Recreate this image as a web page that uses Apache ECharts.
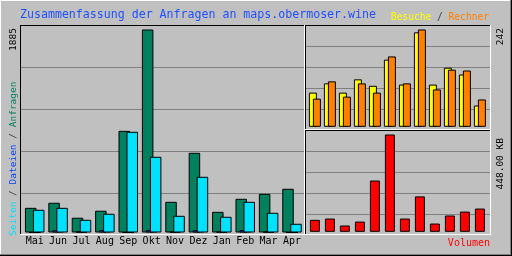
<!DOCTYPE html>
<html>
<head>
<meta charset="utf-8">
<script src="https://cdn.jsdelivr.net/npm/echarts@6/dist/echarts.min.js"></script>
<style>
    html, body { margin: 0; padding: 0; background: #c0c0c0; }
    #chart { width: 512px; height: 256px; }
</style>
</head>
<body>
<div id="chart"></div>
<script>
    // Monate
    var months = ['Mai', 'Jun', 'Jul', 'Aug', 'Sep', 'Okt', 'Nov', 'Dez', 'Jan', 'Feb', 'Mar', 'Apr'];

    // linkes Diagramm
    var anfragen = [229, 276, 137, 202, 944, 1885, 285, 740, 192, 313, 359, 406];
    var dateien = [0, 22, 8, 22, 0, 22, 8, 22, 8, 22, 8, 0];
    var seiten = [211, 229, 118, 174, 935, 703, 155, 517, 146, 285, 183, 81];

    // oben rechts
    var besuche = [85, 108, 85, 118, 102, 167, 105, 235, 105, 147, 130, 53];
    var rechner = [70, 113, 75, 108, 85, 175, 108, 242, 93, 142, 140, 68];

    // unten rechts, KB
    var volumen = [55, 61, 29, 47, 236, 448, 61, 163, 38, 75, 93, 107];

    var maxAnfragen = 1885;
    var maxBesuche = 242;
    var maxVolumen = 448;

    var mono = 'DejaVu Sans Mono, monospace';
    var grey = '#808080';

    var chart = echarts.init(document.getElementById('chart'), null, {renderer: 'canvas'});

    function gridAxis(idx) {
        return {
            type: 'value', gridIndex: idx, min: 0, max: 4, interval: 1,
            axisLine: {show: false}, axisTick: {show: false}, axisLabel: {show: false},
            splitLine: {show: true, lineStyle: {color: grey, width: 1}}
        };
    }

    function barAxis(idx, max) {
        return {
            type: 'value', gridIndex: idx, min: 0, max: max,
            axisLine: {show: false}, axisTick: {show: false}, axisLabel: {show: false},
            splitLine: {show: false}
        };
    }

    function catAxis(idx, labels) {
        return {
            type: 'category', gridIndex: idx, data: months,
            axisLine: {show: false}, axisTick: {show: false},
            axisLabel: {
                show: labels, interval: 0, margin: 4,
                color: '#000', fontFamily: mono, fontSize: 10
            },
            splitLine: {show: false}
        };
    }

    function bar(xi, yi, name, data, color, width, gap) {
        return {
            type: 'bar', name: name, xAxisIndex: xi, yAxisIndex: yi,
            data: data, barWidth: width, barGap: gap,
            itemStyle: {color: color, borderColor: '#000', borderWidth: 1},
            animation: false, silent: true
        };
    }

    function line(x1, y1, x2, y2, color) {
        return {
            type: 'line', z: 100, silent: true,
            shape: {x1: x1, y1: y1, x2: x2, y2: y2},
            style: {stroke: color, lineWidth: 1}
        };
    }

    // Rahmen: schwarz oben/links, weiss unten/rechts
    function panel(x1, y1, x2, y2) {
        return [
            line(x1, y1 + 0.5, x2 + 1, y1 + 0.5, '#000'),
            line(x1 + 0.5, y1, x1 + 0.5, y2 + 1, '#000'),
            line(x1, y2 + 0.5, x2 + 1, y2 + 0.5, '#fff'),
            line(x2 + 0.5, y1, x2 + 0.5, y2 + 1, '#fff')
        ];
    }

    function vtext(x, y, text, color) {
        return {
            type: 'text', x: x, y: y, rotation: Math.PI / 2, z: 100, silent: true,
            style: {
                text: text, fill: color, font: '9.5px ' + mono,
                align: 'right', verticalAlign: 'middle'
            }
        };
    }

    var graphics = [
        line(0, 0.5, 512, 0.5, '#fff'),
        line(0.5, 0, 0.5, 256, '#fff'),
        line(0, 254.5, 512, 254.5, grey),
        line(510.5, 0, 510.5, 256, grey),
        line(0, 255.5, 512, 255.5, '#000'),
        line(511.5, 0, 511.5, 256, '#000'),
        {
            type: 'text', x: 20, y: 15, z: 100, silent: true,
            style: {
                text: 'Zusammenfassung der Anfragen an maps.obermoser.wine',
                fill: '#1f4fff', font: '11.6px ' + mono, verticalAlign: 'middle'
            }
        },
        {
            type: 'text', x: 489, y: 17, z: 100, silent: true,
            style: {
                text: '{v|Besuche} {s|/} {r|Rechner}',
                font: '9.6px ' + mono, align: 'right', verticalAlign: 'middle',
                rich: {
                    v: {fill: '#ffff00', font: '9.6px ' + mono},
                    s: {fill: '#404040', font: '9.6px ' + mono},
                    r: {fill: '#ff8000', font: '9.6px ' + mono}
                }
            }
        },
        {
            type: 'text', x: 490, y: 243, z: 100, silent: true,
            style: {
                text: 'Volumen', fill: '#ff0000', font: '10px ' + mono,
                align: 'right', verticalAlign: 'middle'
            }
        },
        vtext(13.5, 28, String(maxAnfragen), '#000'),
        vtext(500.5, 28, String(maxBesuche), '#000'),
        vtext(500.5, 138, maxVolumen.toFixed(2) + ' KB', '#000'),
        {
            type: 'text', x: 13.5, y: 81.5, rotation: Math.PI / 2, z: 100, silent: true,
            style: {
                text: '{p|Seiten} {s|/} {f|Dateien} {s|/} {h|Anfragen}',
                font: '9.5px ' + mono, align: 'right', verticalAlign: 'middle',
                rich: {
                    p: {fill: '#00e0ff', font: '9.5px ' + mono},
                    s: {fill: '#404040', font: '9.5px ' + mono},
                    f: {fill: '#0040ff', font: '9.5px ' + mono},
                    h: {fill: '#00805c', font: '9.5px ' + mono}
                }
            }
        }
    ];
    graphics = graphics
        .concat(panel(20, 25, 304, 234))
        .concat(panel(305, 25, 490, 129))
        .concat(panel(305, 130, 490, 234));

    var option = {
        backgroundColor: '#c0c0c0',
        animation: false,
        grid: [
            // Gitterlinien
            {left: 20, top: 25, width: 284, height: 168},
            {left: 305, top: 25, width: 185, height: 84},
            {left: 305, top: 130, width: 185, height: 84},
            // Balken
            {left: 23, top: 29.5, width: 280.7, height: 203},
            {left: 307.4, top: 29.5, width: 180, height: 97.3},
            {left: 307.4, top: 134.5, width: 180, height: 97.3}
        ],
        xAxis: [
            catAxis(0, false), catAxis(1, false), catAxis(2, false),
            catAxis(3, true), catAxis(4, false), catAxis(5, false)
        ],
        yAxis: [
            gridAxis(0), gridAxis(1), gridAxis(2),
            barAxis(3, maxAnfragen), barAxis(4, maxBesuche), barAxis(5, maxVolumen)
        ],
        series: [
            bar(3, 3, 'Anfragen', anfragen, '#00805c', 11.5, '-65.2%'),
            bar(3, 3, 'Dateien', dateien, '#0040ff', 11.5, '-65.2%'),
            bar(3, 3, 'Seiten', seiten, '#00e0ff', 11.5, '-65.2%'),
            bar(4, 4, 'Besuche', besuche, '#ffff00', 8, '-50%'),
            bar(4, 4, 'Rechner', rechner, '#ff8000', 8, '-50%'),
            bar(5, 5, 'Volumen', volumen, '#ff0000', 10, '0%')
        ],
        graphic: graphics
    };

    chart.setOption(option);
</script>
</body>
</html>
